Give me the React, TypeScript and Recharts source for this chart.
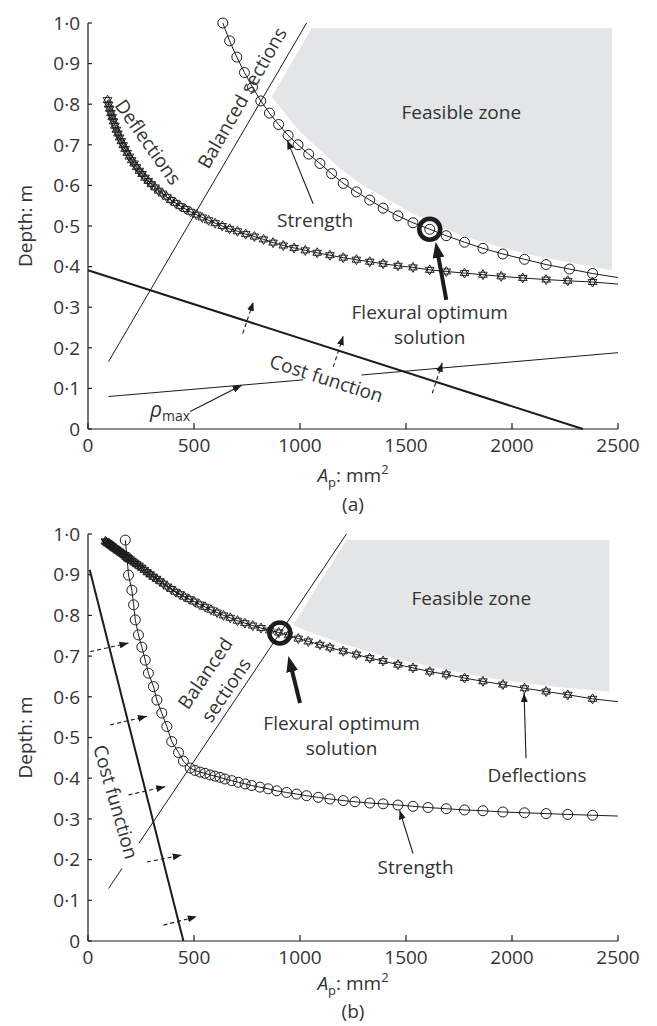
import { Area, ComposedChart, Line, ReferenceDot, XAxis, YAxis } from "recharts";

const FONT = "'Open Sans', 'Noto Sans', sans-serif";
const INK = "#1c1c1c";
const TEXT = "#333333";
const ZONE_FILL = "#e4e5e7";

const xTicks = [0, 500, 1000, 1500, 2000, 2500];
const yTicks = [0, 0.1, 0.2, 0.3, 0.4, 0.5, 0.6, 0.7, 0.8, 0.9, 1.0];

// ---------- panel (a) ----------
const strengthAx = [636, 668, 702, 738, 776, 815, 856, 899, 944, 991, 1041, 1094, 1149, 1204, 1266, 1329, 1392, 1462, 1533, 1612, 1690, 1776, 1863, 1957, 2059, 2161, 2271, 2380, 2500];
const strengthAy = [1.0, 0.956, 0.916, 0.878, 0.842, 0.808, 0.778, 0.75, 0.723, 0.7, 0.677, 0.654, 0.629, 0.605, 0.584, 0.564, 0.544, 0.525, 0.508, 0.492, 0.476, 0.46, 0.445, 0.431, 0.418, 0.405, 0.394, 0.383, 0.373];

const deflectionAx = [92, 97, 102, 108, 114, 120, 127, 134, 141, 149, 157, 166, 175, 185, 195, 206, 217, 229, 242, 255, 269, 284, 299, 316, 333, 351, 371, 391, 412, 435, 459, 484, 511, 539, 569, 600, 633, 668, 705, 744, 785, 828, 873, 921, 972, 1025, 1081, 1141, 1204, 1266, 1329, 1392, 1462, 1533, 1612, 1690, 1776, 1863, 1949, 2051, 2161, 2263, 2380, 2500];
const deflectionAy = [0.81, 0.799, 0.789, 0.778, 0.768, 0.758, 0.747, 0.737, 0.728, 0.718, 0.709, 0.699, 0.69, 0.68, 0.671, 0.662, 0.654, 0.645, 0.636, 0.628, 0.619, 0.611, 0.603, 0.595, 0.587, 0.58, 0.572, 0.564, 0.557, 0.549, 0.542, 0.535, 0.528, 0.521, 0.514, 0.507, 0.5, 0.493, 0.487, 0.48, 0.474, 0.467, 0.459, 0.452, 0.446, 0.44, 0.434, 0.428, 0.422, 0.417, 0.412, 0.407, 0.402, 0.398, 0.392, 0.388, 0.384, 0.38, 0.376, 0.372, 0.368, 0.365, 0.362, 0.357];

const zoneAx = [866, 1000, 1055, 1094, 1188, 1282, 1392, 1517, 1659, 1784, 1941, 2098, 2255, 2472];
const zoneAlo = [0.818, 0.732, 0.706, 0.687, 0.642, 0.605, 0.572, 0.535, 0.498, 0.473, 0.449, 0.428, 0.412, 0.391];
const zoneAhi = [0.818, 0.938, 0.987, 0.987, 0.987, 0.987, 0.987, 0.987, 0.987, 0.987, 0.987, 0.987, 0.987, 0.987];

const balancedA = [97, 0.166, 1031, 1.0];
const costA = [0, 0.391, 2334, 0];
const rhoMaxA = [[97, 0.08, 1015, 0.121], [1290, 0.133, 2500, 0.188]];
const dashArrowsA = [[730, 0.235, 780, 0.313], [1157, 0.153, 1204, 0.229], [1624, 0.088, 1671, 0.163]];
const thinArrowsA = [[482, 0.043, 725, 0.108], [1062, 0.555, 940, 0.711]];
const optArrowA = [1690, 0.318, 1645, 0.446];
const optimumA = [1612, 0.492];

// ---------- panel (b) ----------
const strengthBx = [176, 184, 191, 207, 215, 223, 238, 254, 270, 285, 309, 325, 348, 372, 395, 427, 450, 482, 505, 529, 552, 576, 599, 623, 646, 678, 709, 741, 772, 811, 850, 890, 937, 984, 1031, 1086, 1141, 1204, 1259, 1329, 1392, 1462, 1533, 1604, 1690, 1776, 1863, 1957, 2059, 2161, 2263, 2380, 2500];
const strengthBy = [0.985, 0.943, 0.899, 0.862, 0.826, 0.789, 0.752, 0.722, 0.69, 0.658, 0.625, 0.592, 0.56, 0.527, 0.49, 0.463, 0.442, 0.425, 0.419, 0.415, 0.412, 0.408, 0.405, 0.402, 0.398, 0.394, 0.39, 0.386, 0.382, 0.378, 0.374, 0.369, 0.365, 0.361, 0.357, 0.353, 0.349, 0.345, 0.342, 0.339, 0.337, 0.334, 0.331, 0.328, 0.325, 0.322, 0.32, 0.317, 0.315, 0.313, 0.311, 0.309, 0.307];

const deflectionBx = [82, 86, 91, 95, 100, 105, 110, 116, 122, 128, 134, 141, 148, 155, 163, 171, 180, 189, 198, 208, 218, 229, 241, 253, 266, 279, 293, 307, 323, 339, 356, 374, 392, 412, 433, 454, 477, 501, 526, 552, 580, 609, 639, 671, 705, 740, 777, 816, 857, 900, 945, 992, 1039, 1094, 1141, 1204, 1266, 1329, 1392, 1462, 1533, 1612, 1690, 1776, 1863, 1957, 2059, 2161, 2263, 2380, 2500];
const deflectionBy = [0.982, 0.98, 0.978, 0.977, 0.975, 0.973, 0.971, 0.969, 0.966, 0.964, 0.962, 0.959, 0.957, 0.954, 0.951, 0.948, 0.944, 0.941, 0.938, 0.934, 0.93, 0.926, 0.922, 0.917, 0.912, 0.906, 0.901, 0.895, 0.89, 0.884, 0.878, 0.871, 0.865, 0.858, 0.852, 0.846, 0.84, 0.834, 0.827, 0.821, 0.814, 0.807, 0.8, 0.794, 0.787, 0.781, 0.775, 0.769, 0.763, 0.758, 0.751, 0.743, 0.736, 0.728, 0.721, 0.712, 0.704, 0.695, 0.688, 0.679, 0.671, 0.662, 0.655, 0.646, 0.638, 0.63, 0.621, 0.613, 0.605, 0.595, 0.588];

const zoneBx = [968, 1050, 1188, 1219, 1423, 1658, 1850, 2067, 2250, 2459];
const zoneBlo = [0.776, 0.758, 0.733, 0.728, 0.696, 0.67, 0.65, 0.633, 0.622, 0.613];
const zoneBhi = [0.776, 0.845, 0.96, 0.985, 0.985, 0.985, 0.985, 0.985, 0.985, 0.985];

const balancedB = [[97, 0.129, 160, 0.178], [240, 0.24, 1219, 1.0]];
const costB = [8, 0.912, 450, 0];
const dashArrowsB = [[11, 0.711, 191, 0.732], [105, 0.531, 278, 0.552], [191, 0.359, 364, 0.379], [278, 0.194, 442, 0.211], [356, 0.039, 513, 0.06]];
const thinArrowsB = [[2066, 0.449, 2057, 0.609], [1533, 0.215, 1470, 0.321]];
const optArrowB = [1000, 0.585, 952, 0.686];
const optimumB = [905, 0.757];

// ---------- helpers ----------
const toRows = (xs: number[], ys: number[]) => xs.map((a, i) => ({ a, d: ys[i], m: i < xs.length - 1 }));
const toZone = (xs: number[], lo: number[], hi: number[]) => xs.map((a, i) => ({ a, r: [lo[i], hi[i]] }));
const pair = (s: number[]) => [{ a: s[0], d: s[1] }, { a: s[2], d: s[3] }];
const fmtDepth = (v: number) => (v === 0 ? "0" : v.toFixed(1).replace(".", "·"));

const ringDot = (p: any) => {
  if (!p.payload?.m || p.cx == null) return <g key={`r${p.index}`} />;
  return <circle key={`r${p.index}`} cx={p.cx} cy={p.cy} r={5} fill="none" stroke={INK} strokeWidth={1} />;
};

// six-pointed star, two overlapping triangles
const STAR = "M0,-5 L4.33,2.5 L-4.33,2.5 Z M0,5 L4.33,-2.5 L-4.33,-2.5 Z";
const starDot = (p: any) => {
  if (!p.payload?.m || p.cx == null) return <g key={`s${p.index}`} />;
  return <path key={`s${p.index}`} d={STAR} transform={`translate(${p.cx},${p.cy})`} fill="none" stroke={INK} strokeWidth={0.95} />;
};

const seg = (key: string, data: any[], extra: any = {}) => (
  <Line
    key={key}
    data={data}
    dataKey="d"
    type="linear"
    stroke={INK}
    strokeWidth={1}
    dot={false}
    activeDot={false}
    legendType="none"
    isAnimationActive={false}
    {...extra}
  />
);

const note = (key: string, a: number, d: number, text: string, angle = 0) => (
  <ReferenceDot
    key={key}
    x={a}
    y={d}
    r={1}
    ifOverflow="visible"
    shape={(p: any) => (
      <text
        x={p.cx}
        y={p.cy}
        transform={angle ? `rotate(${angle} ${p.cx} ${p.cy})` : undefined}
        textAnchor="middle"
        dominantBaseline="central"
        fontSize={19}
        fontFamily={FONT}
        fill={TEXT}
      >
        {text}
      </text>
    )}
  />
);

const arrowDefs = (id: string) => (
  <defs>
    <marker id={`${id}-s`} viewBox="0 0 9 7" refX={9} refY={3.5} markerWidth={9} markerHeight={7} markerUnits="userSpaceOnUse" orient="auto">
      <path d="M0,0 L9,3.5 L0,7 Z" fill={INK} />
    </marker>
    <marker id={`${id}-b`} viewBox="0 0 16 12" refX={10} refY={6} markerWidth={16} markerHeight={12} markerUnits="userSpaceOnUse" orient="auto">
      <path d="M0,0 L16,6 L0,12 Z" fill={INK} />
    </marker>
  </defs>
);

const yTitle = (p: any) => {
  const vb = p.viewBox ?? { x: 0, y: 23, width: 88, height: 406 };
  return (
    <text transform={`translate(${vb.x + 32},${vb.y + vb.height / 2}) rotate(-90)`} textAnchor="middle" fontSize={19} fontFamily={FONT} fill={TEXT}>
      Depth: m
    </text>
  );
};

const xTitle = (tag: string, dy1: number, dy2: number) => (p: any) => {
  const vb = p.viewBox ?? { x: 88, y: 429, width: 530, height: 90 };
  const cx = vb.x + vb.width / 2;
  return (
    <g fontFamily={FONT} fill={TEXT}>
      <text x={cx} y={vb.y + dy1} textAnchor="middle" fontSize={19}>
        <tspan fontStyle="italic">A</tspan>
        <tspan fontSize={13} dy={5}>p</tspan>
        <tspan dy={-5}>: mm</tspan>
        <tspan fontSize={13} dy={-8}>2</tspan>
      </text>
      <text x={cx} y={vb.y + dy2} textAnchor="middle" fontSize={19}>
        ({tag})
      </text>
    </g>
  );
};

const axes = (tag: string, xh: number, dy1: number, dy2: number) => [
  <XAxis
    key="x"
    dataKey="a"
    type="number"
    domain={[0, 2500]}
    ticks={xTicks}
    interval={0}
    height={xh}
    tickSize={-6}
    tickMargin={16}
    axisLine={{ stroke: INK, strokeWidth: 1.2 }}
    tickLine={{ stroke: INK, strokeWidth: 1.2 }}
    tick={{ fill: TEXT, fontSize: 19, fontFamily: FONT }}
    label={{ content: xTitle(tag, dy1, dy2) }}
  />,
  <YAxis
    key="y"
    type="number"
    domain={[0, 1]}
    ticks={yTicks}
    interval={0}
    width={88}
    tickSize={-4}
    tickMargin={12}
    tickFormatter={fmtDepth}
    axisLine={{ stroke: INK, strokeWidth: 1.2 }}
    tickLine={{ stroke: INK, strokeWidth: 1.2 }}
    tick={{ fill: TEXT, fontSize: 19, fontFamily: FONT }}
    label={{ content: yTitle }}
  />
];

function PanelA() {
  return (
    <ComposedChart width={657} height={520} margin={{ top: 23, right: 39, bottom: 0, left: 0 }}>
      {arrowDefs("pa")}
      {axes("a", 91, 53, 82)}
      <Area data={toZone(zoneAx, zoneAlo, zoneAhi)} dataKey="r" type="linear" stroke="none" fill={ZONE_FILL} fillOpacity={1} activeDot={false} isAnimationActive={false} />
      {seg("bal", pair(balancedA))}
      {seg("cost", pair(costA), { strokeWidth: 2 })}
      {rhoMaxA.map((s, i) => seg(`rho${i}`, pair(s)))}
      {seg("str", toRows(strengthAx, strengthAy), { dot: ringDot })}
      {seg("def", toRows(deflectionAx, deflectionAy), { dot: starDot })}
      {dashArrowsA.map((s, i) => seg(`da${i}`, pair(s), { strokeWidth: 1.1, strokeDasharray: "4 3", markerEnd: "url(#pa-s)" }))}
      {thinArrowsA.map((s, i) => seg(`ta${i}`, pair(s), { strokeWidth: 1.1, markerEnd: "url(#pa-s)" }))}
      {seg("opt", pair(optArrowA), { strokeWidth: 4, markerEnd: "url(#pa-b)" })}
      <ReferenceDot x={optimumA[0]} y={optimumA[1]} r={10.5} fill="none" stroke={INK} strokeWidth={4.5} />
      {note("bal-t", 726, 0.816, "Balanced sections", -60.2)}
      {note("def-t", 285, 0.707, "Deflections", 54.7)}
      {note("str-t", 1071, 0.514, "Strength")}
      {note("fz-t", 1761, 0.781, "Feasible zone")}
      {note("fo1-t", 1612, 0.289, "Flexural optimum")}
      {note("fo2-t", 1612, 0.226, "solution")}
      {note("cost-t", 1125, 0.125, "Cost function", 17.8)}
      <ReferenceDot
        x={293}
        y={0.03}
        r={1}
        shape={(p: any) => (
          <text x={p.cx} y={p.cy} fontFamily={FONT} fill={TEXT}>
            <tspan fontSize={21} fontStyle="italic">ρ</tspan>
            <tspan fontSize={14} dy={4}>max</tspan>
          </text>
        )}
      />
    </ComposedChart>
  );
}

function PanelB() {
  return (
    <ComposedChart width={657} height={514} margin={{ top: 22, right: 39, bottom: 0, left: 0 }}>
      {arrowDefs("pb")}
      {axes("b", 85, 49, 77)}
      <Area data={toZone(zoneBx, zoneBlo, zoneBhi)} dataKey="r" type="linear" stroke="none" fill={ZONE_FILL} fillOpacity={1} activeDot={false} isAnimationActive={false} />
      {balancedB.map((s, i) => seg(`bal${i}`, pair(s)))}
      {seg("cost", pair(costB), { strokeWidth: 2 })}
      {seg("str", toRows(strengthBx, strengthBy), { dot: ringDot })}
      {seg("def", toRows(deflectionBx, deflectionBy), { dot: starDot })}
      {dashArrowsB.map((s, i) => seg(`db${i}`, pair(s), { strokeWidth: 1.1, strokeDasharray: "4 3", markerEnd: "url(#pb-s)" }))}
      {thinArrowsB.map((s, i) => seg(`tb${i}`, pair(s), { strokeWidth: 1.1, markerEnd: "url(#pb-s)" }))}
      {seg("opt", pair(optArrowB), { strokeWidth: 4, markerEnd: "url(#pb-b)" })}
      <ReferenceDot x={optimumB[0]} y={optimumB[1]} r={10.5} fill="none" stroke={INK} strokeWidth={4.5} />
      {note("fz-t", 1808, 0.842, "Feasible zone")}
      {note("bal1-t", 552, 0.658, "Balanced", -56)}
      {note("bal2-t", 650, 0.617, "sections", -56)}
      {note("fo1-t", 1196, 0.535, "Flexural optimum")}
      {note("fo2-t", 1196, 0.474, "solution")}
      {note("def-t", 2118, 0.408, "Deflections")}
      {note("str-t", 1545, 0.183, "Strength")}
      {note("cost-t", 132, 0.342, "Cost function", 74)}
    </ComposedChart>
  );
}

export default function App() {
  return (
    <div style={{ position: "absolute", left: 0, top: 0, width: 657, height: 1026, background: "#fff" }}>
      <div style={{ position: "absolute", left: 0, top: 0 }}>
        <PanelA />
      </div>
      <div style={{ position: "absolute", left: 0, top: 512 }}>
        <PanelB />
      </div>
    </div>
  );
}
